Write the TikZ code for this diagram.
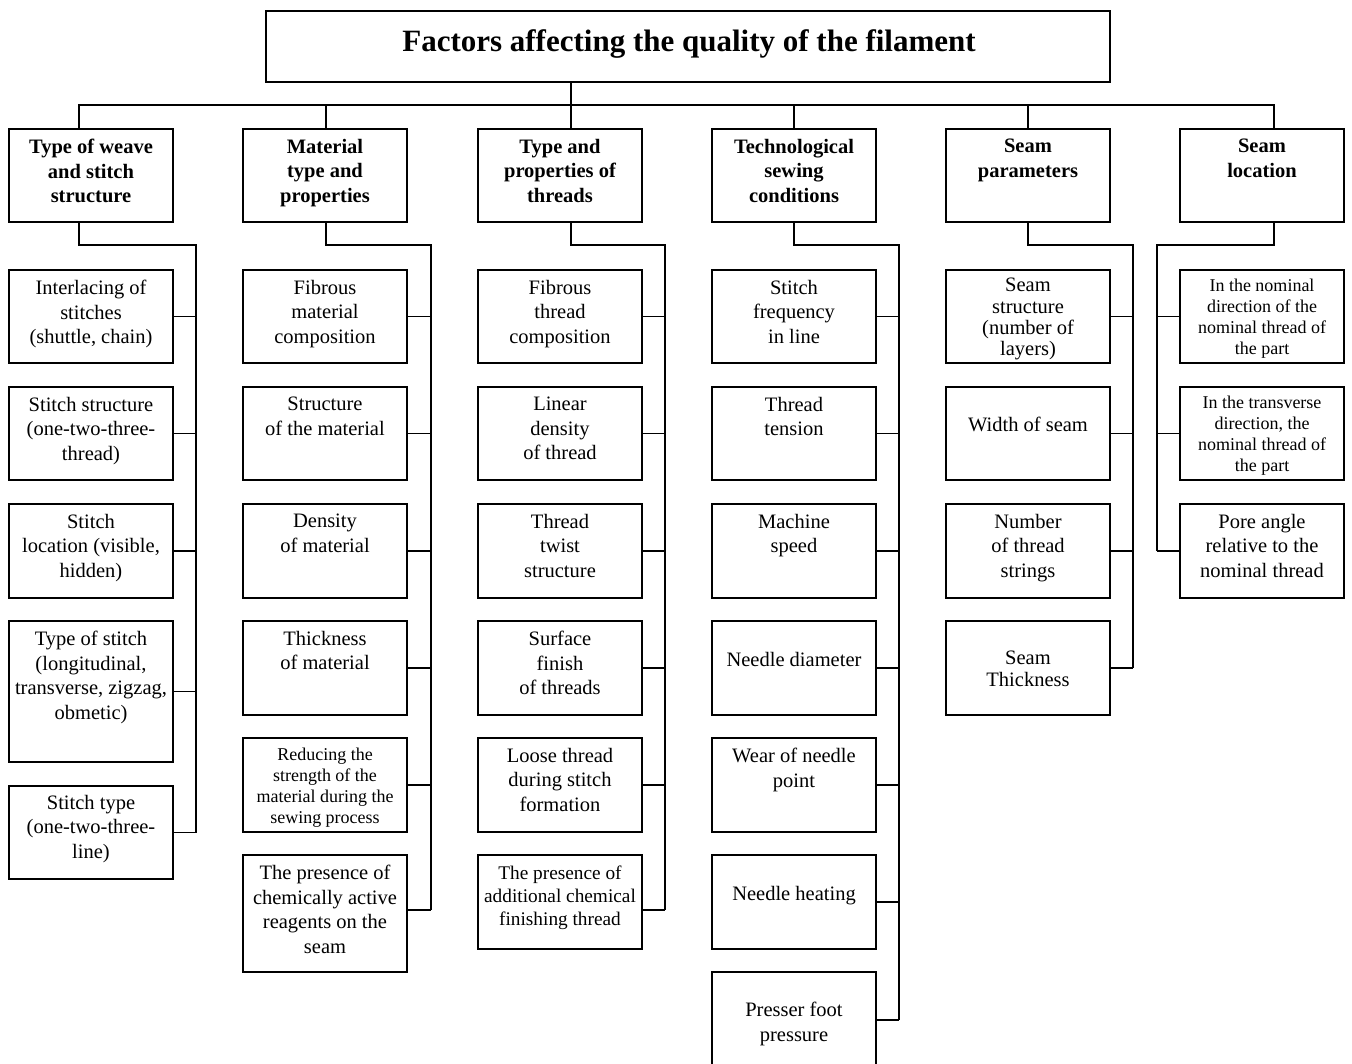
\documentclass[tikz,border=0pt]{standalone}
\usepackage{fontspec}
\setmainfont{Liberation Serif}
\usetikzlibrary{calc}
\tikzset{
  boxst/.style={draw, line width=1.8pt, minimum width=164pt, inner sep=0pt},
  txt/.style={inner sep=0pt, align=center, font=\fontsize{20.5}{24.5}\selectfont},
  cat/.style={font=\bfseries\fontsize{20.5}{24.5}\selectfont},
  small/.style={font=\fontsize{18}{21.2}\selectfont},
  mid/.style={font=\fontsize{19.3}{23}\selectfont},
  tight/.style={font=\fontsize{20.5}{21.4}\selectfont},
  tightb/.style={font=\fontsize{20.5}{22}\selectfont},
  plain/.style={},
  conn/.style={line width=1.8pt},
}
% #1 name, #2 left x, #3 top y, #4 bottom y, #5 first baseline y, #6 style, #7 text
\newcommand{\bx}[7]{%
  \node[boxst, minimum height={(#4-#3)*1pt}] (#1) at ({#2+82},{(#3+#4)/2}) {};
  \node[txt,#6,anchor=north] (#1t) at ({#2+82},{#5-14}) {#7};
}
\begin{document}
\begin{tikzpicture}[x=1pt,y=-1pt]
\fill[white] (0,0) rectangle (1352,1064);
\clip (0,0) rectangle (1352,1064);

% title
\node[boxst, minimum width=844pt, minimum height=71pt] (title) at (688,46.5) {};
\node[txt, font=\bfseries\fontsize{31}{36}\selectfont, anchor=base] (titlet) at (689,52) {Factors affecting the quality of the filament};

% categories
\bx{c1}{9}{129}{222}{153}{cat}{Type of weave\\and stitch\\structure}
\bx{c2}{243}{129}{222}{153}{cat}{Material\\type and\\properties}
\bx{c3}{478}{129}{222}{153}{cat}{Type and\\properties of\\threads}
\bx{c4}{712}{129}{222}{153}{cat}{Technological\\sewing\\conditions}
\bx{c5}{946}{129}{222}{153}{cat}{Seam\\parameters}
\bx{c6}{1180}{129}{222}{153}{cat}{Seam\\location}

% column 1
\bx{r11}{9}{270}{363}{294}{plain}{Interlacing of\\stitches\\(shuttle, chain)}
\bx{r12}{9}{387}{480}{411}{plain}{Stitch structure\\(one-two-three-\\thread)}
\bx{r13}{9}{504}{598}{528}{plain}{Stitch\\location (visible,\\hidden)}
\bx{r14}{9}{621}{762}{645}{plain}{Type of stitch\\(longitudinal,\\transverse, zigzag,\\obmetic)}
\bx{r15}{9}{786}{879}{809}{plain}{Stitch type\\(one-two-three-\\line)}

% column 2
\bx{r21}{243}{270}{363}{294}{plain}{Fibrous\\material\\composition}
\bx{r22}{243}{387}{480}{411}{plain}{Structure\\of the material}
\bx{r23}{243}{504}{598}{528}{plain}{Density\\of material}
\bx{r24}{243}{621}{715}{645}{plain}{Thickness\\of material}
\bx{r25}{243}{738}{832}{761.7}{small}{Reducing the\\strength of the\\material during the\\sewing process}
\bx{r26}{243}{855}{972}{879}{plain}{The presence of\\chemically active\\reagents on the\\seam}

% column 3
\bx{r31}{478}{270}{363}{294}{plain}{Fibrous\\thread\\composition}
\bx{r32}{478}{387}{480}{411}{plain}{Linear\\density\\of thread}
\bx{r33}{478}{504}{598}{528}{plain}{Thread\\twist\\structure}
\bx{r34}{478}{621}{715}{645}{plain}{Surface\\finish\\of threads}
\bx{r35}{478}{738}{832}{762}{plain}{Loose thread\\during stitch\\formation}
\bx{r36}{478}{855}{949}{879.3}{mid}{The presence of\\additional chemical\\finishing thread}

% column 4
\bx{r41}{712}{270}{363}{294}{plain}{Stitch\\frequency\\in line}
\bx{r42}{712}{387}{480}{411}{plain}{Thread\\tension}
\bx{r43}{712}{504}{598}{528}{plain}{Machine\\speed}
\bx{r44}{712}{621}{715}{666}{plain}{Needle diameter}
\bx{r45}{712}{738}{832}{762}{plain}{Wear of needle\\point}
\bx{r46}{712}{855}{949}{900}{plain}{Needle heating}
\bx{r47}{712}{972}{1068}{1016}{plain}{Presser foot\\pressure}

% column 5
\bx{r51}{946}{270}{363}{292}{tight}{Seam\\structure\\(number of\\layers)}
\bx{r52}{946}{387}{480}{431}{plain}{Width of seam}
\bx{r53}{946}{504}{598}{528}{plain}{Number\\of thread\\strings}
\bx{r54}{946}{621}{715}{665}{tightb}{Seam\\Thickness}

% column 6
\bx{r61}{1180}{270}{363}{292.7}{small}{In the nominal\\direction of the\\nominal thread of\\the part}
\bx{r62}{1180}{387}{480}{409.7}{small}{In the transverse\\direction, the\\nominal thread of\\the part}
\bx{r63}{1180}{504}{598}{528}{plain}{Pore angle\\relative to the\\nominal thread}

% bus
\coordinate (bus1) at (79,105);
\coordinate (bus2) at (326,105);
\coordinate (bus3) at (571,105);
\coordinate (bus4) at (794,105);
\coordinate (bus5) at (1028,105);
\coordinate (bus6) at (1274,105);
\draw[conn] (bus1 |- c1.north) -- (bus1) -- (bus6) -- (bus6 |- c6.north);
\draw[conn] (title.south -| bus3) -- (bus3 |- c3.north);
\draw[conn] (bus2) -- (bus2 |- c2.north);
\draw[conn] (bus4) -- (bus4 |- c4.north);
\draw[conn] (bus5) -- (bus5 |- c5.north);

% column spines
\coordinate (v1) at (196,245);
\coordinate (v2) at (431,245);
\coordinate (v3) at (665,245);
\coordinate (v4) at (899,245);
\coordinate (v5) at (1133,245);
\coordinate (v6) at (1157,245);

\draw[conn] (c1.south -| bus1) -- (bus1 |- v1) -- (v1) -- (v1 |- r15.east);
\foreach \n in {r11,r12,r13,r14,r15} \draw[conn] (\n.east) -- (\n.east -| v1);

\draw[conn] (c2.south -| bus2) -- (bus2 |- v2) -- (v2) -- (v2 |- 0,910);
\foreach \n in {r21,r22,r23,r24,r25} \draw[conn] (\n.east) -- (\n.east -| v2);
\draw[conn] (r26.east |- 0,910) -- (v2 |- 0,910);

\draw[conn] (c3.south -| bus3) -- (bus3 |- v3) -- (v3) -- (v3 |- 0,910);
\foreach \n in {r31,r32,r33,r34,r35} \draw[conn] (\n.east) -- (\n.east -| v3);
\draw[conn] (r36.east |- 0,910) -- (v3 |- 0,910);

\draw[conn] (c4.south -| bus4) -- (bus4 |- v4) -- (v4) -- (v4 |- r47.east);
\foreach \n in {r41,r42,r43,r44,r45,r46,r47} \draw[conn] (\n.east) -- (\n.east -| v4);

\draw[conn] (c5.south -| bus5) -- (bus5 |- v5) -- (v5) -- (v5 |- r54.east);
\foreach \n in {r51,r52,r53,r54} \draw[conn] (\n.east) -- (\n.east -| v5);

\draw[conn] (c6.south -| bus6) -- (bus6 |- v6) -- (v6) -- (v6 |- r63.west);
\foreach \n in {r61,r62,r63} \draw[conn] (\n.west) -- (\n.west -| v6);
\end{tikzpicture}
\end{document}
